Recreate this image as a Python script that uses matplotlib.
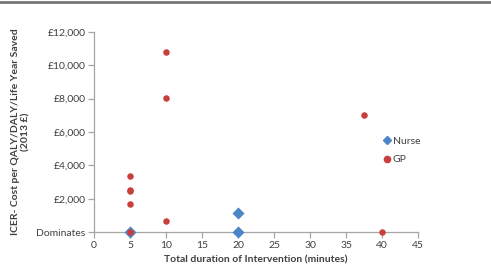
import matplotlib
matplotlib.use("Agg")
import matplotlib.pyplot as plt
from matplotlib.lines import Line2D

plt.rcParams['font.family'] = ['Lato', 'DejaVu Sans']

nurse_x = [5, 20, 20]
nurse_y = [0, 0, 1150]
gp_x = [5, 5, 5, 5, 5, 10, 10, 10, 37.5, 40]
gp_y = [0, 1680, 2450, 2560, 3390, 650, 8030, 10780, 7020, 0]

xticks = list(range(0, 50, 5))
yticks = [0, 2000, 4000, 6000, 8000, 10000, 12000]
ylabels = ['Dominates', '£2,000', '£4,000', '£6,000', '£8,000', '£10,000', '£12,000']

fig = plt.figure(figsize=(4.91, 2.78), dpi=100)
ax = fig.add_axes([94/491, 1-232.3/278, (418.3-94)/491, (232.3-31.7)/278])

blue = '#4A86C8'
red = '#C8403C'
ax.scatter(nurse_x, nurse_y, marker='D', s=38, color=blue, zorder=3, clip_on=False, linewidths=0)
ax.scatter(gp_x, gp_y, marker='o', s=22, color=red, zorder=4, clip_on=False, linewidths=0)

ax.set_xlim(0, 45)
ax.set_ylim(0, 12000)
ax.set_xticks(xticks)
ax.set_yticks(yticks)
ax.set_yticklabels(ylabels)
for s in ['top', 'right']:
    ax.spines[s].set_visible(False)
for s in ['left', 'bottom']:
    ax.spines[s].set_color('#A6A6A6')
    ax.spines[s].set_linewidth(0.9)
ax.tick_params(axis='both', colors='#A6A6A6', labelcolor='#404040', labelsize=7.5, length=4, width=0.9, direction='out', pad=2)

ax.set_xlabel('Total duration of Intervention (minutes)', fontsize=7.5, fontweight='bold', color='#404040', labelpad=4)
ax.set_ylabel('ICER- Cost per QALY/DALY/Life Year Saved\n(2013 £)', fontsize=7.5, fontweight='bold', color='#404040', labelpad=4, linespacing=1.25)

handles = [Line2D([], [], marker='D', color=blue, linestyle='None', markersize=4.5),
           Line2D([], [], marker='o', color=red, linestyle='None', markersize=4.5)]
fig.legend(handles, ['Nurse', 'GP'], loc='center left', bbox_to_anchor=(374/491, 1-150.5/278),
           frameon=False, fontsize=7.5, handlelength=0.6, handletextpad=0.3, labelspacing=0.85,
           labelcolor='#404040')

fig.add_artist(Line2D([0, 1], [1-1.5/278, 1-1.5/278], transform=fig.transFigure, color='#777777', linewidth=2))

fig.savefig('out.png', dpi=100)
